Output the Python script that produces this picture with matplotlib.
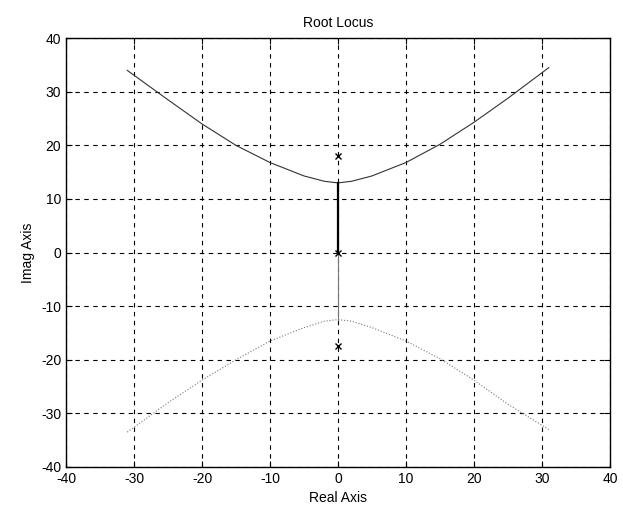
import numpy as np
import matplotlib.pyplot as plt

plt.rcParams['font.family'] = ['Liberation Sans', 'DejaVu Sans']
plt.rcParams['axes.unicode_minus'] = False

# root locus branches
upper_re = [-31, -25, -20, -15, -10, -5, -2, 0, 2, 5, 10, 15, 20, 25, 31]
upper_im = [34, 28.5, 24, 20, 16.8, 14.3, 13.3, 13, 13.3, 14.3, 16.8, 20.2, 24.3, 28.8, 34.5]
lower_re = [-31, -25, -20, -15, -10, -5, -2, 0, 2, 5, 10, 15, 20, 25, 31]
lower_im = [-33.5, -28, -23.8, -20, -16.5, -14, -12.8, -12.5, -12.8, -14, -16.5, -19.8, -23.8, -28.3, -33]

# segment on the imaginary axis
seg_re = [0, 0]
seg_im = [0, 13]
seg2_im = [0, -12.5]

# open-loop poles
poles_re = [0, 0, 0]
poles_im = [18, 0, -17.5]

fig = plt.figure(figsize=(6.23, 5.16), dpi=100)
ax = fig.add_axes([0.106, 0.095, 0.873, 0.831])

ax.plot(upper_re, upper_im, color='#333333', lw=0.8)
ax.plot(lower_re, lower_im, color='#777777', lw=0.8, ls=':')
ax.plot(seg_re, seg_im, color='black', lw=1.6)
ax.plot(seg_re, seg2_im, color='#777777', lw=0.8)
ax.plot(poles_re, poles_im, 'x', color='black', ms=5, mew=1)

ax.set_xlim(-40, 40)
ax.set_ylim(-40, 40)
ax.set_xticks(np.arange(-40, 41, 10))
ax.set_yticks(np.arange(-40, 41, 10))
ax.grid(True, color='black', ls=(0, (4, 4)), lw=0.8)
ax.tick_params(direction='in', length=4, labelsize=10, colors='black',
               top=True, right=True)
for s in ax.spines.values():
    s.set_linewidth(1.0)

ax.set_title('Root Locus', fontsize=10, pad=8)
ax.set_xlabel('Real Axis', fontsize=10)
ax.set_ylabel('Imag Axis', fontsize=10)

fig.savefig('out.png', dpi=100)
